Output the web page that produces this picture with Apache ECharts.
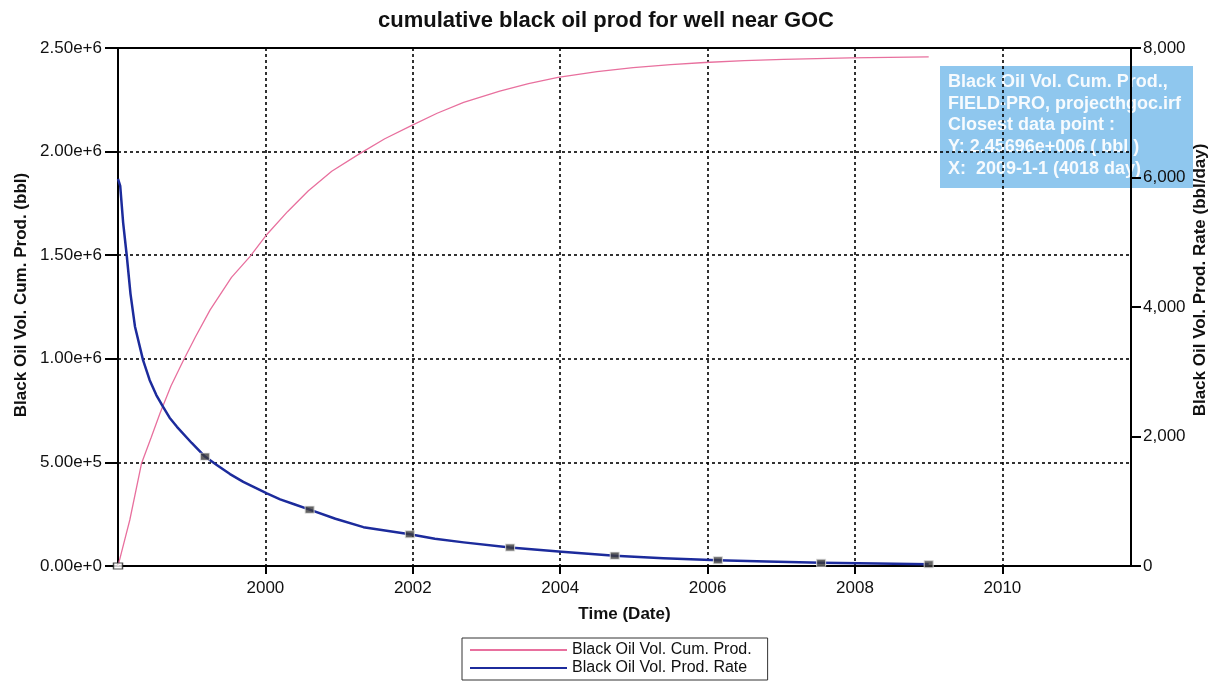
<!DOCTYPE html>
<html>
<head>
<meta charset="utf-8">
<script src="https://cdn.jsdelivr.net/npm/echarts@6/dist/echarts.min.js"></script>
<style>
  html, body { margin: 0; padding: 0; background: #ffffff; }
  #chart { width: 1212px; height: 682px; }
</style>
</head>
<body>
<div id="chart"></div>
<script>
// ---- data ----
const chartTitle = 'cumulative black oil prod for well near GOC';
const seriesNames = ['Black Oil Vol. Cum. Prod.', 'Black Oil Vol. Prod. Rate'];
const xAxisName = 'Time (Date)';
const leftAxisName = 'Black Oil Vol. Cum. Prod. (bbl)';
const rightAxisName = 'Black Oil Vol. Prod. Rate (bbl/day)';

// time in decimal years
const cumYears  = [1998.0, 1998.05, 1998.16, 1998.32, 1998.45, 1998.57, 1998.72, 1998.89, 1999.05, 1999.25, 1999.54, 1999.79, 2000.02, 2000.3, 2000.58, 2000.9, 2001.28, 2001.62, 2001.98, 2002.33, 2002.69, 2003.18, 2003.57, 2003.97, 2004.5, 2004.99, 2005.5, 2005.96, 2006.5, 2007.03, 2007.93, 2009.0];
const cumValues = [0, 69000, 222000, 496000, 620000, 737000, 870000, 994000, 1105000, 1236000, 1393000, 1493000, 1600000, 1710000, 1810000, 1905000, 1990000, 2062000, 2125000, 2185000, 2238000, 2292000, 2328000, 2358000, 2386000, 2405000, 2420000, 2430000, 2439000, 2445000, 2452000, 2456960];

const rateYears  = [1998.0, 1998.03, 1998.07, 1998.12, 1998.17, 1998.23, 1998.34, 1998.43, 1998.52, 1998.61, 1998.70, 1998.80, 1999.0, 1999.18, 1999.34, 1999.52, 1999.70, 1999.86, 2000.02, 2000.2, 2000.4, 2000.6, 2000.95, 2001.33, 2001.96, 2002.3, 2002.69, 2003.32, 2004.02, 2004.74, 2005.4, 2006.14, 2006.8, 2007.54, 2008.3, 2009.0];
const rateValues = [5980, 5870, 5300, 4780, 4200, 3700, 3180, 2870, 2640, 2460, 2290, 2150, 1900, 1690, 1560, 1420, 1300, 1210, 1120, 1030, 950, 870, 730, 600, 490, 420, 365, 285, 220, 160, 120, 88, 68, 50, 38, 28];

// years at which the rate curve carries a square marker
const markerYears = [1999.18, 2000.6, 2001.96, 2003.32, 2004.74, 2006.14, 2007.54, 2009.0];

const leftTicks  = [0, 500000, 1000000, 1500000, 2000000, 2500000];
const rightTicks = [0, 2000, 4000, 6000, 8000];
const xLabelYears = [2000, 2002, 2004, 2006, 2008, 2010];

const infoLines = [
  'Black Oil Vol. Cum. Prod.,',
  'FIELD-PRO, projecthgoc.irf',
  'Closest data point :',
  'Y: 2.45696e+006 ( bbl )',
  'X:  2009-1-1 (4018 day)'
];

// ---- build ----
const cumData  = cumYears.map((x, i) => [x, cumValues[i]]);
const rateData = rateYears.map((x, i) => [x, rateValues[i]]);
const markerData = markerYears.map(x => {
  const i = rateYears.indexOf(x);
  return [x, rateValues[i]];
});

const FONT = '"Liberation Sans", Arial, sans-serif';
const chart = echarts.init(document.getElementById('chart'), null, { renderer: 'canvas' });

const gridLine = { show: true, lineStyle: { color: '#000', type: [3, 3], width: 1.6 } };

const infoText = infoLines.map((t, i) => ({
  type: 'text',
  z: -10,
  left: 948,
  top: 73 + i * 21.7,
  style: { text: t, fill: 'rgba(255,255,255,0.93)', font: 'bold 18px ' + FONT }
}));

chart.setOption({
  animation: false,
  backgroundColor: '#ffffff',
  title: {
    text: chartTitle,
    left: 'center',
    top: 5,
    textStyle: { fontFamily: FONT, fontSize: 22, fontWeight: 'bold', color: '#111' }
  },
  grid: {
    left: 118, right: 81, top: 48, bottom: 116,
    outerBoundsMode: 'none', containLabel: false,
    show: true, borderColor: '#000', borderWidth: 2, backgroundColor: 'transparent'
  },
  legend: {
    data: seriesNames,
    orient: 'vertical',
    left: 462, top: 638,
    padding: [3, 16, 3, 8],
    itemGap: 0,
    itemWidth: 97,
    itemHeight: 2,
    icon: 'rect',
    borderColor: '#333',
    borderWidth: 1,
    backgroundColor: '#fff',
    textStyle: { fontFamily: FONT, fontSize: 16, color: '#111', lineHeight: 18 }
  },
  graphic: [
    { type: 'rect', z: -20, left: 940, top: 66, shape: { width: 253, height: 122 }, style: { fill: '#8fc7ee' } }
  ].concat(infoText),
  xAxis: {
    type: 'value',
    min: 1998, max: 2011.745, interval: 2,
    name: xAxisName, nameLocation: 'middle', nameGap: 40,
    nameTextStyle: { fontFamily: FONT, fontSize: 17, fontWeight: 'bold', color: '#111' },
    axisLine: { show: true, onZero: false, lineStyle: { color: '#000', width: 2 } },
    axisTick: { show: true, inside: false, length: 8, customValues: xLabelYears, lineStyle: { color: '#000', width: 2 } },
    axisLabel: {
      margin: 14, fontFamily: FONT, fontSize: 17, color: '#111',
      customValues: xLabelYears,
      formatter: v => String(Math.round(v))
    },
    splitLine: gridLine
  },
  yAxis: [
    {
      type: 'value', position: 'left',
      min: leftTicks[0], max: leftTicks[leftTicks.length - 1], interval: leftTicks[1] - leftTicks[0],
      name: leftAxisName, nameLocation: 'middle', nameGap: 88, nameRotate: 90,
      nameMoveOverlap: false,
      nameTextStyle: { fontFamily: FONT, fontSize: 17, fontWeight: 'bold', color: '#111', padding: [0, 0, 0, 24] },
      axisLine: { show: true, lineStyle: { color: '#000', width: 2 } },
      axisTick: { show: true, length: 13, lineStyle: { color: '#000', width: 2 } },
      axisLabel: {
        margin: 16, fontFamily: FONT, fontSize: 17, color: '#111',
        formatter: v => Number(v).toExponential(2)
      },
      splitLine: gridLine
    },
    {
      type: 'value', position: 'right',
      min: rightTicks[0], max: rightTicks[rightTicks.length - 1], interval: rightTicks[1] - rightTicks[0],
      name: rightAxisName, nameLocation: 'middle', nameGap: 61, nameRotate: 90,
      nameMoveOverlap: false,
      nameTextStyle: { fontFamily: FONT, fontSize: 17, fontWeight: 'bold', color: '#111', padding: [0, 0, 0, 54] },
      axisLine: { show: true, lineStyle: { color: '#000', width: 2 } },
      axisTick: { show: true, length: 10, lineStyle: { color: '#000', width: 2 } },
      axisLabel: {
        margin: 12, fontFamily: FONT, fontSize: 17, color: '#111',
        formatter: v => Number(v).toLocaleString('en-US')
      },
      splitLine: { show: false }
    }
  ],
  series: [
    {
      name: seriesNames[0], type: 'line', yAxisIndex: 0,
      data: cumData, showSymbol: false, smooth: false,
      lineStyle: { color: '#e8709e', width: 1.3 },
      itemStyle: { color: '#e8709e' },
      z: 3
    },
    {
      name: seriesNames[1], type: 'line', yAxisIndex: 1,
      data: rateData, showSymbol: false, smooth: false,
      lineStyle: { color: '#1c2b9c', width: 2.5, join: 'round' },
      itemStyle: { color: '#1c2b9c' },
      z: 4
    },
    {
      name: 'rate markers', type: 'scatter', yAxisIndex: 1,
      data: markerData, symbol: 'rect', symbolSize: [9, 7],
      itemStyle: { color: '#3c3c3c', borderColor: '#d8d8d8', borderWidth: 1 },
      z: 5
    },
    {
      name: 'start marker', type: 'scatter', yAxisIndex: 0,
      data: [cumData[0]], symbol: 'rect', symbolSize: [9, 6],
      itemStyle: { color: '#ffffff', borderColor: '#222', borderWidth: 1.2 },
      z: 5
    }
  ]
});
</script>
</body>
</html>
